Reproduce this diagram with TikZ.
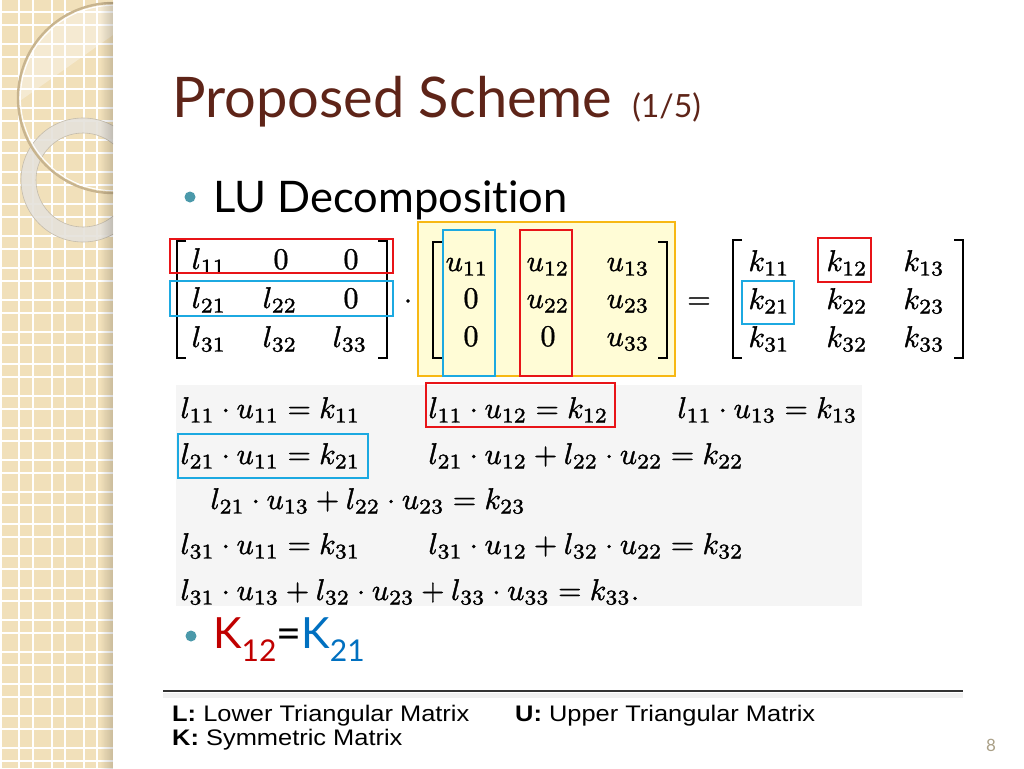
\documentclass[tikz,border=0pt]{standalone}
\usepackage{amsmath}
\usepackage{fontspec}
\newfontfamily\gill[Ligatures=NoCommon]{Lato}
\newfontfamily\arialw[FakeStretch=1.13]{Liberation Sans}
\usetikzlibrary{fadings}
\definecolor{beige}{RGB}{241,224,186}
\definecolor{beigedark}{RGB}{200,180,142}
\definecolor{ringgrey}{RGB}{229,226,219}
\definecolor{ringedge}{RGB}{196,188,172}
\definecolor{titlebrown}{RGB}{94,36,24}
\definecolor{bullteal}{RGB}{75,153,170}
\definecolor{boxred}{RGB}{232,20,24}
\definecolor{boxblue}{RGB}{28,169,225}
\definecolor{yelfill}{RGB}{255,252,214}
\definecolor{yeledge}{RGB}{247,184,20}
\definecolor{eqbg}{RGB}{245,245,245}
\definecolor{kred}{RGB}{192,0,0}
\definecolor{kblue}{RGB}{0,112,192}
\definecolor{pagegrey}{RGB}{170,160,135}
\definecolor{rulegrey}{RGB}{50,50,50}
\tikzfading[name=fadeedge, left color=transparent!100, right color=transparent!0]
\tikzset{
  heavy/.style={execute at begin node={\special{pdf:literal direct 2 Tr 0.12 w}},
                execute at end node={\special{pdf:literal direct 0 Tr}}},
  ent/.style={anchor=base, inner sep=0pt, scale=3, heavy},
  eq/.style={anchor=base west, inner sep=0pt, scale=3, heavy},
  redbox/.style={draw=boxred, line width=2.6pt},
  bluebox/.style={draw=boxblue, line width=2.6pt},
  brack/.style={line width=2.3pt},
  foot/.style={anchor=base west, inner sep=0pt, font=\arialw\fontsize{22.5}{27}\selectfont},
  bullet/.style={fill=bullteal}
}
\begin{document}
\begin{tikzpicture}[x=1pt,y=-1pt]
\useasboundingbox (0,0) rectangle (1024,768);
\fill[white] (0,0) rectangle (1024,768);
% left strip
\fill[beige] (0,0) rectangle (113,768);
\foreach \k in {0,...,24} {
  \draw[white, line width=1.2pt] (0,{12+32*\k}) -- (113,{12+32*\k});
  \draw[white, line width=1.2pt] (0,{25+32*\k}) -- (113,{25+32*\k});
}
\foreach \x in {1,19,33,52,65,84,97} {
  \draw[white, line width=1.2pt] (\x,0) -- (\x,768);
}
\begin{scope}
  \clip (0,0) rectangle (113,768);
  \begin{scope}
    \clip (113,98) circle (95);
    \fill[white, opacity=0.35] (0,0) -- (113,0) -- (113,35) -- (0,115) -- cycle;
  \end{scope}
  \fill[ringgrey, opacity=0.9, even odd rule] (83,180) circle (62) (83,180) circle (47);
  \draw[ringedge, line width=0.6pt] (83,180) circle (62) (83,180) circle (47);
  \draw[beigedark, line width=2.4pt] (113,98) circle (95);
  \draw[white, line width=1pt] (113,98) circle (92.6);
\end{scope}
\fill[black, opacity=0.16, path fading=fadeedge] (100,0) rectangle (113,768);

% title
\node[anchor=base west, inner sep=0pt, text=titlebrown, font=\gill\fontsize{56}{60}\selectfont] (title) at (172,117)
  {Proposed Scheme\hspace{20pt}{\fontsize{32}{36}\selectfont(1/5)}};

% bullet 1
\fill[bullet] (190,197) circle (5.5);
\node[anchor=base west, inner sep=0pt, font=\gill\fontsize{43.5}{48}\selectfont] (lu) at (213,212) {LU Decomposition};

% yellow box
\fill[yelfill] (418,222) rectangle (675,376);
\draw[yeledge, line width=2.2pt] (418,222) rectangle (675,376);

% L matrix
\node[ent] (l11) at (209,269) {$l_{11}$};
\node[ent] (l12) at (281,269) {$0$};
\node[ent] (l13) at (351,269) {$0$};
\node[ent] (l21) at (209,308) {$l_{21}$};
\node[ent] (l22) at (280,308) {$l_{22}$};
\node[ent] (l23) at (351,308) {$0$};
\node[ent] (l31) at (209,347) {$l_{31}$};
\node[ent] (l32) at (280,347) {$l_{32}$};
\node[ent] (l33) at (350,347) {$l_{33}$};
\draw[brack] (186,241) -- (177,241) -- (177,358) -- (186,358);
\draw[brack] (378,241) -- (387,241) -- (387,358) -- (378,358);

\node[ent] (dot) at (408,308.5) {$\cdot$};

% U matrix
\node[ent] (u11) at (467,271) {$u_{11}$};
\node[ent] (u12) at (548,271) {$u_{12}$};
\node[ent] (u13) at (628,271) {$u_{13}$};
\node[ent] (u21) at (471,308) {$0$};
\node[ent] (u22) at (548,308) {$u_{22}$};
\node[ent] (u23) at (628,308) {$u_{23}$};
\node[ent] (u31) at (471,346) {$0$};
\node[ent] (u32) at (548,346) {$0$};
\node[ent] (u33) at (628,346) {$u_{33}$};
\draw[brack] (442,242) -- (433,242) -- (433,358) -- (442,358);
\draw[brack] (658,242) -- (667,242) -- (667,358) -- (658,358);

\node[ent] (eqs) at (699,308.5) {$=$};

% K matrix
\node[ent] (k11) at (769,271) {$k_{11}$};
\node[ent] (k12) at (847,271) {$k_{12}$};
\node[ent] (k13) at (924,271) {$k_{13}$};
\node[ent] (k21) at (769,309) {$k_{21}$};
\node[ent] (k22) at (847,309) {$k_{22}$};
\node[ent] (k23) at (924,309) {$k_{23}$};
\node[ent] (k31) at (769,347) {$k_{31}$};
\node[ent] (k32) at (847,347) {$k_{32}$};
\node[ent] (k33) at (924,347) {$k_{33}$};
\draw[brack] (742,240) -- (733,240) -- (733,358) -- (742,358);
\draw[brack] (954,240) -- (963,240) -- (963,358) -- (954,358);

% highlight boxes on matrices
\draw[redbox] (170,239) rectangle (393,273);
\draw[bluebox] (170,281) rectangle (393,316);
\draw[bluebox] (443,230) rectangle (495,376);
\draw[redbox] (520,230) rectangle (572,376);
\draw[redbox] (818,238) rectangle (871,282);
\draw[bluebox] (742,281) rectangle (794,324);

% equations
\fill[eqbg] (176,385) rectangle (862,606);
\node[eq] (e1) at (180,418) {$l_{11}\cdot u_{11}=k_{11}$};
\node[eq] (e2) at (428,418) {$l_{11}\cdot u_{12}=k_{12}$};
\node[eq] (e3) at (677,418) {$l_{11}\cdot u_{13}=k_{13}$};
\node[eq] (e4) at (180,464) {$l_{21}\cdot u_{11}=k_{21}$};
\node[eq] (e5) at (428,464) {$l_{21}\cdot u_{12}+l_{22}\cdot u_{22}=k_{22}$};
\node[eq] (e6) at (210,509) {$l_{21}\cdot u_{13}+l_{22}\cdot u_{23}=k_{23}$};
\node[eq] (e7) at (180,554) {$l_{31}\cdot u_{11}=k_{31}$};
\node[eq] (e8) at (428,554) {$l_{31}\cdot u_{12}+l_{32}\cdot u_{22}=k_{32}$};
\node[eq] (e9) at (180,600) {$l_{31}\cdot u_{13}+l_{32}\cdot u_{23}+l_{33}\cdot u_{33}=k_{33}.$};
\draw[redbox] (426,383) rectangle (615,427);
\draw[bluebox] (178,434) rectangle (368,478);

% bullet 2
\fill[bullet] (191,636) circle (5.5);
\node[anchor=base west, inner sep=0pt, font=\gill\fontsize{43}{48}\selectfont] (ksym) at (213,648)
  {\textcolor{kred}{K\raisebox{-13pt}{\fontsize{30}{30}\selectfont 12}}=\textcolor{kblue}{K\raisebox{-13pt}{\fontsize{30}{30}\selectfont 21}}};

% rule
\fill[black, opacity=0.06] (163,692.5) rectangle (963,698);
\draw[rulegrey, line width=1.5pt] (163,691) -- (963,691);

% footnote
\node[foot] (fl) at (172,721) {\textbf{L:} Lower Triangular Matrix};
\node[foot] (fu) at (515,721) {\textbf{U:} Upper Triangular Matrix};
\node[foot] (fk) at (172,745) {\textbf{K:} Symmetric Matrix};

\node[anchor=base, inner sep=0pt, text=pagegrey, font=\gill\fontsize{17}{20}\selectfont] (pnum) at (991,751) {8};
\end{tikzpicture}
\end{document}
